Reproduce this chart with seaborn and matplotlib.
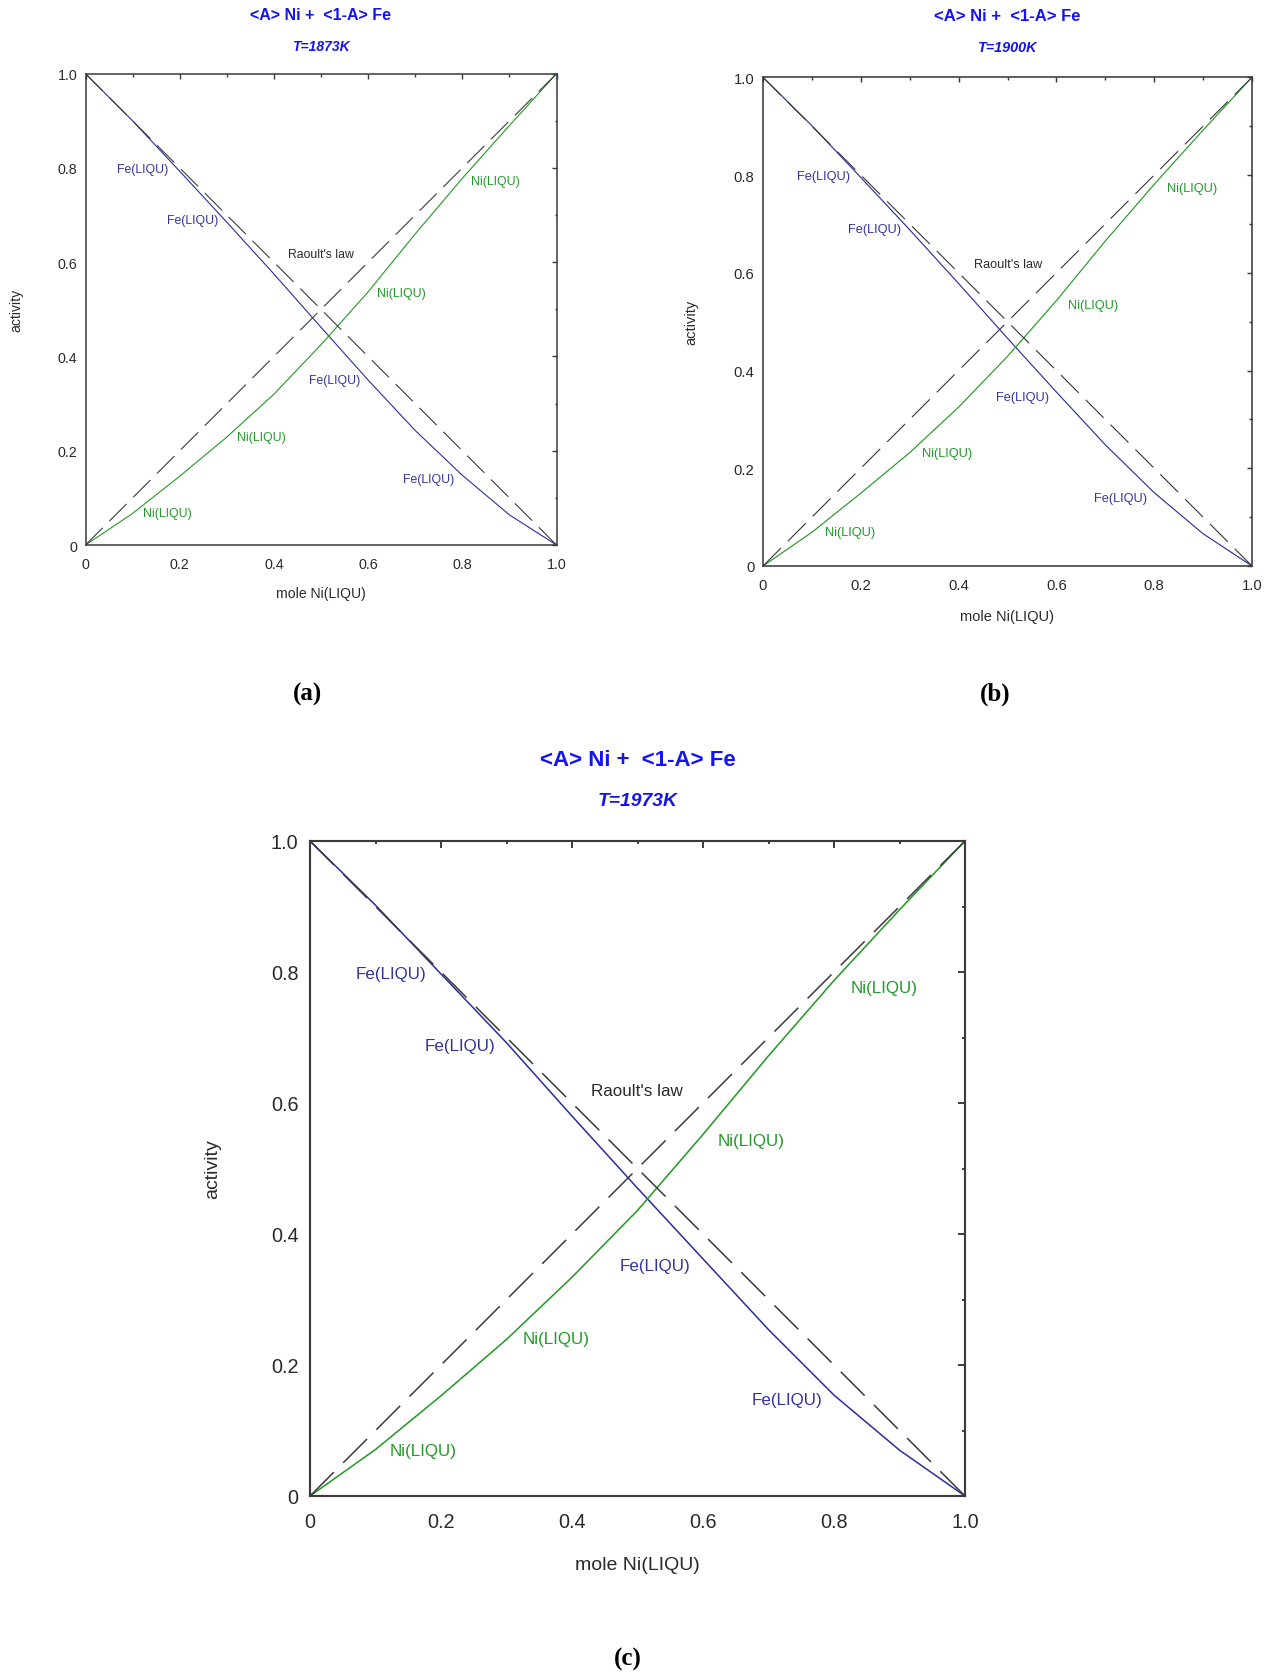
import matplotlib
matplotlib.use("Agg")
import matplotlib.pyplot as plt
import numpy as np
import pandas as pd
import seaborn as sns

# ---------------- data ----------------
x_ni = [0.0, 0.1, 0.2, 0.3, 0.4, 0.5, 0.6, 0.7, 0.8, 0.9, 1.0]

a_ni_1873 = [0.0, 0.067, 0.146, 0.229, 0.320, 0.425, 0.537, 0.660, 0.778, 0.890, 1.0]
a_fe_1873 = [1.0, 0.900, 0.793, 0.685, 0.575, 0.462, 0.350, 0.243, 0.148, 0.064, 0.0]

a_ni_1900 = [0.0, 0.069, 0.149, 0.232, 0.325, 0.429, 0.543, 0.665, 0.781, 0.892, 1.0]
a_fe_1900 = [1.0, 0.901, 0.795, 0.688, 0.578, 0.466, 0.356, 0.248, 0.150, 0.066, 0.0]

a_ni_1973 = [0.0, 0.071, 0.153, 0.239, 0.334, 0.436, 0.552, 0.672, 0.787, 0.895, 1.0]
a_fe_1973 = [1.0, 0.902, 0.797, 0.692, 0.580, 0.470, 0.362, 0.254, 0.154, 0.070, 0.0]

raoult_x = [0.0, 1.0]
raoult_ni = [0.0, 1.0]
raoult_fe = [1.0, 0.0]

tick_major = [0.0, 0.2, 0.4, 0.6, 0.8, 1.0]
tick_minor = [0.1, 0.3, 0.5, 0.7, 0.9]
tick_labels = ["0", "0.2", "0.4", "0.6", "0.8", "1.0"]

title_text = "<A> Ni +  <1-A> Fe"
temps = ["T=1873K", "T=1900K", "T=1973K"]
tags = ["(a)", "(b)", "(c)"]
xlabel_text = "mole Ni(LIQU)"
ylabel_text = "activity"

label_texts = ["Fe(LIQU)", "Fe(LIQU)", "Raoult's law", "Ni(LIQU)", "Ni(LIQU)",
               "Fe(LIQU)", "Ni(LIQU)", "Fe(LIQU)", "Ni(LIQU)"]
label_kind = ["fe", "fe", "r", "ni", "ni", "fe", "ni", "fe", "ni"]

# ---------------- layout ----------------
W, H = 1271, 1674
FE_C = "#2e2e9e"
NI_C = "#229922"
FE_T = "#33339f"
NI_T = "#22992a"
R_C = "#3c3c3c"
TITLE_C = "#1414f0"
AX_C = "#3a3a3a"
TXT_C = "#2a2a2a"

panels = [
    dict(box=(85.5, 74.7, 556.5, 546.0), s=1.0, ni=a_ni_1873, fe=a_fe_1873,
         t1y=15.7, t2y=46.7, xly=594, ylx=16.5, tag=(307, 694),
         pos=[(0.121, 0.797), (0.228, 0.690), (0.499, 0.617), (0.870, 0.772),
              (0.670, 0.535), (0.528, 0.350), (0.374, 0.230), (0.729, 0.141),
              (0.173, 0.068)]),
    dict(box=(763.0, 78.3, 1252.0, 567.0), s=1.04, ni=a_ni_1900, fe=a_fe_1900,
         t1y=16.7, t2y=47.7, xly=617, ylx=691.5, tag=(995, 694),
         pos=[(0.123, 0.798), (0.228, 0.689), (0.501, 0.618), (0.877, 0.774),
              (0.676, 0.535), (0.530, 0.346), (0.376, 0.232), (0.731, 0.140),
              (0.179, 0.070)]),
    dict(box=(310.0, 842.0, 965.0, 1497.0), s=1.39, ni=a_ni_1973, fe=a_fe_1973,
         t1y=761, t2y=802, xly=1566, ylx=213, tag=(628, 1659),
         pos=[(0.123, 0.797), (0.229, 0.688), (0.499, 0.619), (0.876, 0.777),
              (0.674, 0.543), (0.527, 0.352), (0.375, 0.241), (0.729, 0.147),
              (0.173, 0.070)]),
]

sns.set_theme(style="white")
plt.rcParams["font.family"] = ["Liberation Sans", "DejaVu Sans"]
plt.rcParams["lines.scale_dashes"] = False
plt.rcParams["axes.edgecolor"] = AX_C

fig = plt.figure(figsize=(W / 100, H / 100), dpi=100)


def fx(px):
    return px / W


def fy(py):
    return 1 - py / H


for i, p in enumerate(panels):
    s = p["s"]
    x0, y0, x1, y1 = p["box"]
    ax = fig.add_axes([fx(x0), fy(y1), (x1 - x0) / W, (y1 - y0) / H])

    df = pd.DataFrame({"x": x_ni, "Ni": p["ni"], "Fe": p["fe"]})
    sns.lineplot(data=df, x="x", y="Fe", ax=ax, color=FE_C, lw=0.8 * s,
                 estimator=None)
    sns.lineplot(data=df, x="x", y="Ni", ax=ax, color=NI_C, lw=0.8 * s,
                 estimator=None)
    rf = pd.DataFrame({"x": raoult_x, "ni": raoult_ni, "fe": raoult_fe})
    sns.lineplot(data=rf, x="x", y="ni", ax=ax, color=R_C, lw=0.8 * s,
                 estimator=None)
    ax.lines[-1].set_linestyle((0, (17.5 * s, 6.8 * s)))
    sns.lineplot(data=rf, x="x", y="fe", ax=ax, color=R_C, lw=0.8 * s,
                 estimator=None)
    ax.lines[-1].set_linestyle((0, (17.5 * s, 6.8 * s)))

    ax.set_xlim(0, 1)
    ax.set_ylim(0, 1)
    ax.set_xticks(tick_major)
    ax.set_xticklabels(tick_labels)
    ax.set_yticks(tick_major)
    ax.set_yticklabels(tick_labels)
    ax.set_xticks(tick_minor, minor=True)
    ax.set_yticks(tick_minor, minor=True)
    ax.tick_params(which="both", direction="in", top=True, right=True,
                   color=AX_C, width=1.0 * s)
    ax.tick_params(which="major", length=3.6 * s)
    ax.tick_params(which="minor", length=1.8 * s)
    ax.tick_params(axis="x", which="major", pad=8.5 * s,
                   labelsize=10.3 * s, labelcolor=TXT_C)
    ax.tick_params(axis="y", which="major", pad=6.0 * s,
                   labelsize=10.3 * s, labelcolor=TXT_C)
    for sp in ax.spines.values():
        sp.set_linewidth(1.1 * s)
        sp.set_color(AX_C)

    # axis labels
    h = y1 - y0
    w = x1 - x0
    ax.set_xlabel(xlabel_text, fontsize=10.1 * s, color=TXT_C)
    ax.xaxis.set_label_coords(0.5, -(p["xly"] - y1) / h)
    ax.xaxis.label.set_va("center")
    ax.set_ylabel(ylabel_text, fontsize=10.1 * s, color=TXT_C)
    ax.yaxis.set_label_coords(-(x0 - p["ylx"]) / w, 0.5)
    ax.yaxis.label.set_va("center")

    # curve labels
    for txt, kind, (lx, ly) in zip(label_texts, label_kind, p["pos"]):
        col = {"fe": FE_T, "ni": NI_T, "r": TXT_C}[kind]
        ax.text(lx, ly, txt, color=col, fontsize=8.8 * s, ha="center",
                va="center")

    # titles
    cx = (x0 + x1) / 2
    fig.text(fx(cx), fy(p["t1y"]), title_text, color=TITLE_C,
             fontsize=11.5 * s, fontweight="bold", ha="center", va="center")
    fig.text(fx(cx), fy(p["t2y"]), temps[i], color=TITLE_C,
             fontsize=10.0 * s, fontweight="bold", fontstyle="italic",
             ha="center", va="center")
    # panel tag
    fig.text(fx(p["tag"][0]), fy(p["tag"][1]), tags[i], fontsize=18,
             fontweight="bold", family=["Liberation Serif", "DejaVu Serif"],
             color="black", ha="center", va="center")

fig.savefig("out.png", dpi=100, facecolor="white")
